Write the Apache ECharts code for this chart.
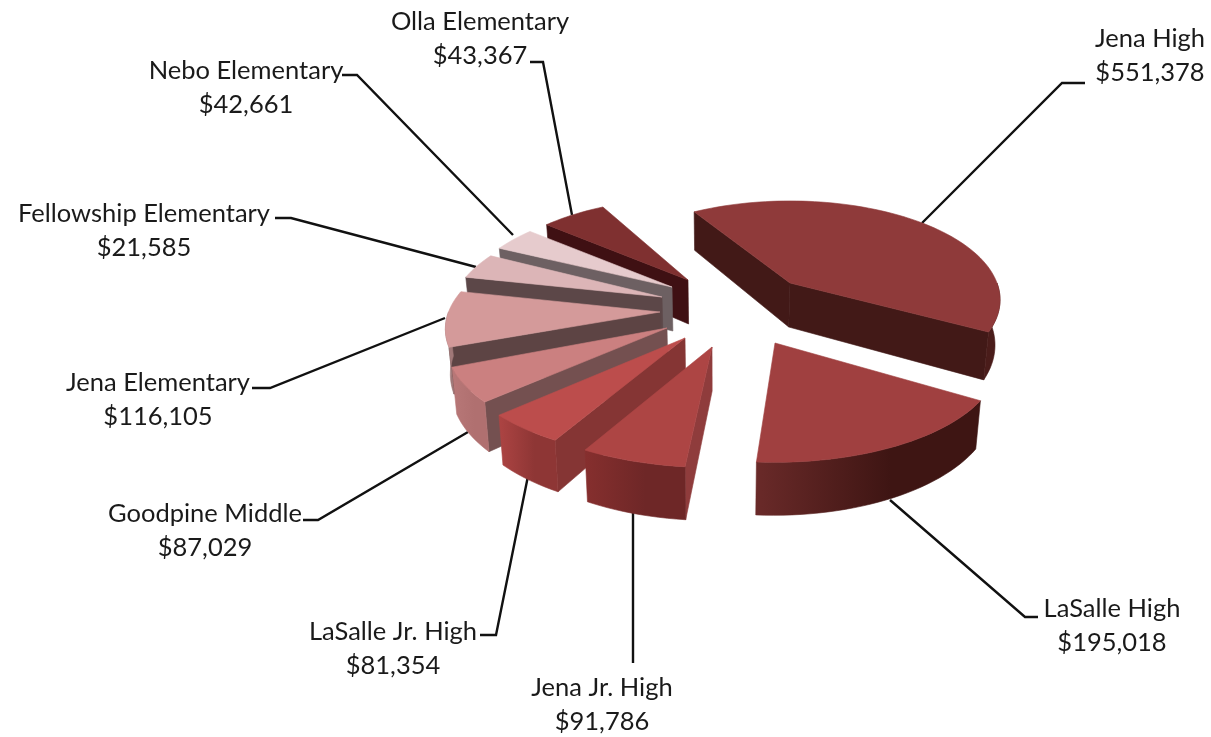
<!DOCTYPE html>
<html>
<head>
<meta charset="utf-8">
<title>School spending</title>
<style>
    html, body { margin: 0; padding: 0; background: #fff; }
    #chart { width: 1211px; height: 737px; }
</style>
<script src="https://cdn.jsdelivr.net/npm/echarts@6/dist/echarts.min.js"></script>
</head>
<body>
<div id="chart"></div>
<script>
// data, clockwise from Jena High
var schools = ['Jena High', 'LaSalle High', 'Jena Jr. High', 'LaSalle Jr. High', 'Goodpine Middle',
    'Jena Elementary', 'Fellowship Elementary', 'Nebo Elementary', 'Olla Elementary'];
var spending = [551378, 195018, 91786, 81354, 87029, 116105, 21585, 42661, 43367];

// pie layout
var pieCenter = [680, 310], radiusX = 225, radiusY = 100, perspective = 0.17, thickness = 44;
var firstAngle = -36, vanishX = 720;
var sliceShift = [[110, -27], [95, 33], [32, 37], [5, 28], [-13, 18], [-20, 2], [-18, -13], [-8, -23], [8, -30]];
var sliceTurn = [4, -3.3, 3.3, 0.2, -5, -8.6, -10.2, -3.1, -1.3];
var sliceGain = [0.93, 1.086, 0.856, 0.735, 0.785, 0.96, 2.4, 1.15, 1.69];
var sliceReach = [0.92, 0.98, 1, 1, 0.965, 0.94, 0.925, 0.915, 0.91];
var paintOrder = [8, 7, 6, 5, 4, 3, 2, 0, 1];

// colours
var topColors = ['#8f3a3a', '#a04040', '#ad4544', '#bc4d4c', '#cb8080', '#d49a9a', '#dcb5b7', '#e6cbcd', '#7f3030'];
var wallColors = ['#421917', '#421917', '#8f3c3c', '#853534', '#745050', '#5d4444', '#5c4748', '#6d6062', '#3f1013'];
var rimColors = [['#4a1c1a', '#4a1c1a'], ['#6a2a29', '#3e1513'], ['#862f2e', '#6e2727'], ['#ad4443', '#8e3635'],
    ['#b87878', '#b07070'], ['#a07878', '#a07878'], ['#b08484', '#b08484'], ['#b08484', '#b08484'], ['#b08484', '#b08484']];

// labels and leader lines
var labelAt = [[1150, 56], [1112, 626], [602, 705], [393, 649], [205, 531], [158, 400], [144, 231], [246, 88], [480, 39]];
var leaders = [
    [[1085, 83], [1062, 83], [922, 223]],
    [[890, 500], [1025, 617], [1038, 617]],
    [[633, 510], [633, 663]],
    [[480, 635], [496, 635], [528, 476]],
    [[303, 520], [318, 520], [468, 432]],
    [[252, 388], [270, 388], [445, 318]],
    [[275, 218], [291, 218], [476, 267]],
    [[342, 75], [357, 75], [513, 235]],
    [[530, 62], [543, 62], [572, 215]]
];

var total = spending.reduce(function (a, b) { return a + b; }, 0);
var startAngles = [];
spending.reduce(function (acc, v, i) {
    startAngles[i] = acc;
    return acc + v / total * 360;
}, firstAngle);

function rimPoint(apex, deg, reach) {
    var t = deg * Math.PI / 180;
    var s = 1 / (1 + perspective * Math.cos(t));
    return [apex[0] + radiusX * reach * Math.sin(t) * s, apex[1] - radiusY * (1 + reach) / 2 * Math.cos(t) * s, s];
}

// top point dropped to the underside of the slice
function lower(p) {
    var s = p[2] === undefined ? 1 : p[2];
    return [p[0] + (vanishX - p[0]) * 0.018, p[1] + thickness * s];
}

function wall(points, fill) {
    var poly = points.concat(points.slice().reverse().map(lower));
    return {
        type: 'polygon',
        shape: {points: poly},
        style: {fill: fill, stroke: fill, lineWidth: 0.6}
    };
}

function renderSlice(params, api) {
    var i = api.value(0);
    var from = startAngles[i] + sliceTurn[i];
    var to = from + spending[i] / total * 360 * sliceGain[i];
    var apex = [pieCenter[0] + sliceShift[i][0], pieCenter[1] + sliceShift[i][1]];
    var reach = sliceReach[i];
    var children = [];

    var first = rimPoint(apex, from, reach), last = rimPoint(apex, to, reach);
    if (first[0] < apex[0]) children.push(wall([apex, first], wallColors[i]));
    if (last[0] > apex[0]) children.push(wall([last, apex], wallColors[i]));

    // outer wall, only the part turned toward the viewer
    var a = Math.max(from, 90), b = Math.min(to, 270), rim = [], d;
    if (b > a) {
        for (d = a; d < b; d += 2) rim.push(rimPoint(apex, d, reach));
        rim.push(rimPoint(apex, b, reach));
        children.push(wall(rim, new echarts.graphic.LinearGradient(0, 0, 1, 0, [
            {offset: 0, color: rimColors[i][0]},
            {offset: 0.6, color: rimColors[i][1]},
            {offset: 1, color: rimColors[i][1]}
        ])));
    }

    var top = [apex];
    for (d = from; d < to; d += 2) top.push(rimPoint(apex, d, reach));
    top.push(last);
    children.push({
        type: 'polygon',
        shape: {points: top.map(function (p) { return [p[0], p[1]]; })},
        style: {fill: topColors[i], stroke: topColors[i], lineWidth: 0.6}
    });

    return {type: 'group', children: children};
}

function renderLabel(params, api) {
    var i = api.value(0);
    return {
        type: 'group',
        children: [{
            type: 'polyline',
            shape: {points: leaders[i]},
            style: {stroke: '#111', lineWidth: 2.4, fill: 'none'}
        }, {
            type: 'text',
            x: labelAt[i][0],
            y: labelAt[i][1],
            style: {
                text: schools[i] + '\n$' + spending[i].toLocaleString('en-US'),
                font: '25.5px Lato',
                lineHeight: 34,
                fill: '#1a1a1a',
                align: 'center',
                verticalAlign: 'middle'
            }
        }]
    };
}

var chart = echarts.init(document.getElementById('chart'));
chart.setOption({
    animation: false,
    tooltip: {show: false},
    series: [{
        type: 'custom',
        coordinateSystem: 'none',
        z: 1,
        silent: true,
        renderItem: renderLabel,
        data: schools.map(function (n, i) { return [i]; })
    }, {
        type: 'custom',
        coordinateSystem: 'none',
        z: 2,
        silent: true,
        renderItem: renderSlice,
        data: paintOrder.map(function (i) { return [i]; })
    }]
});
</script>
</body>
</html>
